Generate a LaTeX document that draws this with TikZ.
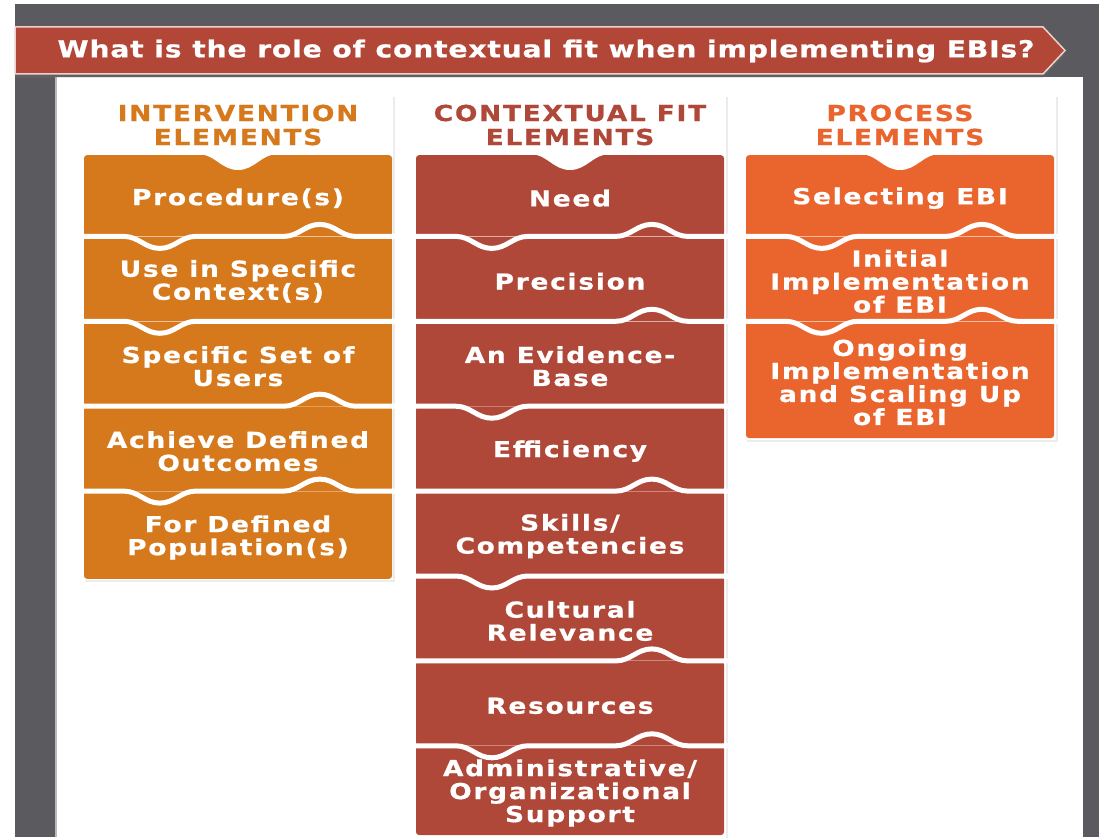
\documentclass[tikz,border=0pt]{standalone}
\usepackage{fontspec}
\newfontfamily\elemfont[FakeStretch=1.2,LetterSpace=8,FakeBold=0.8]{DejaVu Sans}
\newfontfamily\titlefont[FakeStretch=1.2,LetterSpace=3.5,FakeBold=0.8]{DejaVu Sans}
\usetikzlibrary{positioning,shadows}

\definecolor{framegray}{RGB}{90,90,95}
\definecolor{bannerred}{RGB}{178,71,56}
\definecolor{intorange}{RGB}{214,121,28}
\definecolor{fitred}{RGB}{176,72,57}
\definecolor{procorange}{RGB}{234,101,45}

% white wave between two stacked boxes (dip left, bump right, or both)
\newcommand\gapboth[1]{\draw[gap,shift={(#1.south west)}] (-2,0) -- (40,0) to[out=0,in=180] (76,12) to[out=0,in=180] (112,0) -- (200,0) to[out=0,in=180] (236,-12) to[out=0,in=180] (272,0) -- (312,0);}
\newcommand\gapdip[1]{\draw[gap,shift={(#1.south west)}] (-2,0) -- (40,0) to[out=0,in=180] (76,12) to[out=0,in=180] (112,0) -- (312,0);}
\newcommand\gapbump[1]{\draw[gap,shift={(#1.south west)}] (-2,0) -- (200,0) to[out=0,in=180] (236,-12) to[out=0,in=180] (272,0) -- (312,0);}
\newcommand\notch[1]{\fill[white,shift={(#1.north)}] (-40,-1) to[out=0,in=180] (0,15) to[out=0,in=180] (40,-1) -- cycle;}

\begin{document}
\begin{tikzpicture}[x=1pt,y=-1pt,
  elem/.style={rectangle,rounded corners=3pt,minimum width=308pt,minimum height=84.5pt,
    inner sep=0pt,label={[elemtext]center:#1}},
  elemtext/.style={text=white,align=center,yshift=-2.5pt,
    font=\elemfont\bfseries\fontsize{22}{23}\selectfont},
  head/.style={align=center,font=\elemfont\bfseries\fontsize{22}{24}\selectfont},
  card/.style={fill=white,drop shadow={opacity=0.15,shadow xshift=2pt,shadow yshift=-2pt}},
  gap/.style={draw=white,line width=5pt}]

  \useasboundingbox (0,0) rectangle (1099,837);

  \fill[framegray] (15,4) rectangle (1099,837);
  \fill[white] (55,77) rectangle (1083,837);
  \draw[gray!55,line width=2pt] (56,77) -- (56,837);

  \filldraw[fill=bannerred,draw=white!75!bannerred,line width=1.5pt,
    drop shadow={opacity=0.2,shadow xshift=0pt,shadow yshift=-4pt}]
    (15,27) -- (1043,27) -- (1065,50.5) -- (1043,74) -- (15,74) -- cycle;
  \node[text=white,font=\titlefont\bfseries\fontsize{23.5}{26}\selectfont] (title) at (546,51)
    {What is the role of contextual fit when implementing EBIs?};

  \fill[card] (83,95) rectangle (393,580);
  \fill[card] (415,95) rectangle (726,845);
  \fill[card] (745,95) rectangle (1056,440);

  \node[head,text=intorange] (hint) at (238,125) {INTERVENTION\\ELEMENTS};
  \node[head,text=fitred] (hfit) at (570,125) {CONTEXTUAL FIT\\ELEMENTS};
  \node[head,text=procorange] (hproc) at (900,125) {PROCESS\\ELEMENTS};

  \node[elem={Procedure(s)},fill=intorange,minimum height=81pt,anchor=north] (proc) at (238,155) {};
  \node[elem={Use in Specific\\Context(s)},fill=intorange,below=0pt of proc] (context) {};
  \node[elem={Specific Set of\\Users},fill=intorange,below=0pt of context] (users) {};
  \node[elem={Achieve Defined\\Outcomes},fill=intorange,below=0pt of users] (outcomes) {};
  \node[elem={For Defined\\Population(s)},fill=intorange,minimum height=87.5pt,below=0pt of outcomes] (popul) {};

  \node[elem={Need},fill=fitred,minimum height=81pt,anchor=north] (need) at (570,155) {};
  \node[elem={Precision},fill=fitred,below=0pt of need] (precision) {};
  \node[elem={An Evidence-\\Base},fill=fitred,below=0pt of precision] (evidence) {};
  \node[elem={Efficiency},fill=fitred,below=0pt of evidence] (efficiency) {};
  \node[elem={Skills/\\Competencies},fill=fitred,below=0pt of efficiency] (skills) {};
  \node[elem={Cultural\\Relevance},fill=fitred,below=0pt of skills] (culture) {};
  \node[elem={Resources},fill=fitred,below=0pt of culture] (resources) {};
  \node[elem={Administrative/\\Organizational\\Support},fill=fitred,minimum height=89pt,below=0pt of resources] (admin) {};

  \node[elem={Selecting EBI},fill=procorange,minimum height=81pt,anchor=north] (select) at (900,155) {};
  \node[elem={Initial\\Implementation\\of EBI},fill=procorange,below=0pt of select] (initial) {};
  \node[elem={Ongoing\\Implementation\\and Scaling Up\\of EBI},fill=procorange,minimum height=116.5pt,below=0pt of initial] (ongoing) {};

  \notch{proc} \notch{need} \notch{select}

  \gapboth{proc} \gapdip{context} \gapbump{users} \gapboth{outcomes}
  \gapboth{need} \gapbump{precision} \gapdip{evidence} \gapbump{efficiency}
  \gapdip{skills} \gapbump{culture} \gapboth{resources}
  \gapboth{select} \gapboth{initial}

\end{tikzpicture}
\end{document}
